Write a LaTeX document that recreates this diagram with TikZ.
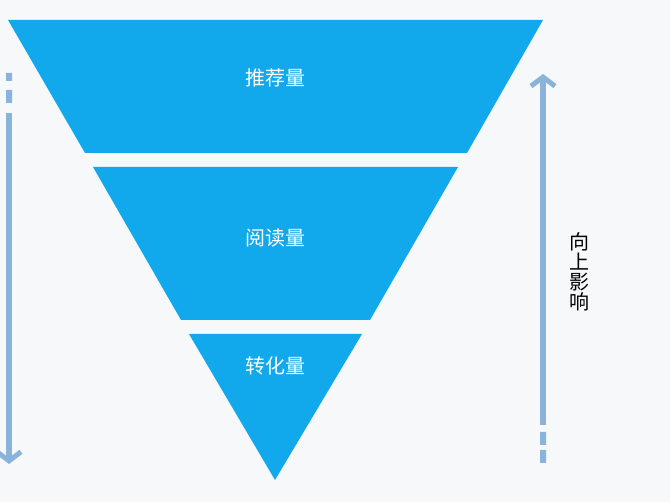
\documentclass[tikz,border=0pt]{standalone}
\usepackage{fontspec}
\usepackage{tikz}
\usetikzlibrary{positioning,arrows.meta}
\newfontfamily\cjk{Noto Sans CJK SC}
\definecolor{funnelblue}{HTML}{12A8EC}
\definecolor{arrowblue}{HTML}{8AB3DC}
\definecolor{paper}{HTML}{F7F8FA}

\begin{document}
\begin{tikzpicture}[x=1pt,y=-1pt,
    layer/.style={fill=funnelblue, draw=none},
    label/.style={text=white, font=\cjk\fontsize{20}{24}\selectfont},
    flow/.style={arrowblue, line width=6pt, -{Straight Barb[length=9pt,width=24pt,line width=5pt]}}]

    % background
    \fill[paper] (0,0) rectangle (670,502);
    \useasboundingbox (0,0) rectangle (670,502);

    % funnel layers
    \fill[layer] (8,20) -- (543,20) -- (467,153) -- (85,153) -- cycle;
    \fill[layer] (93,167) -- (458,167) -- (370,320) -- (181,320) -- cycle;
    \fill[layer] (189,334) -- (362,334) -- (275,480) -- cycle;

    % layer names
    \node[label] (recommend) at (275,78) {推荐量};
    \node[label] (read) at (275,238) {阅读量};
    \node[label] (convert) at (275,366) {转化量};

    % left arrow
    \coordinate (ltop) at (9,113);
    \coordinate (lend) at (9,464);
    \fill[arrowblue] (6,73) rectangle (12,81) (6,90) rectangle (12,103);
    \draw[flow] (ltop) -- (lend);

    % right arrow
    \coordinate (rbot) at (543,425);
    \coordinate (rend) at (543,74);
    \fill[arrowblue] (540,432) rectangle (546,445) (540,450) rectangle (546,463);
    \draw[flow] (rbot) -- (rend);

    % side text
    \node[align=center, font=\cjk\fontsize{20}{20}\selectfont] (influence) at (579,272) {向\\上\\影\\响};

\end{tikzpicture}
\end{document}
